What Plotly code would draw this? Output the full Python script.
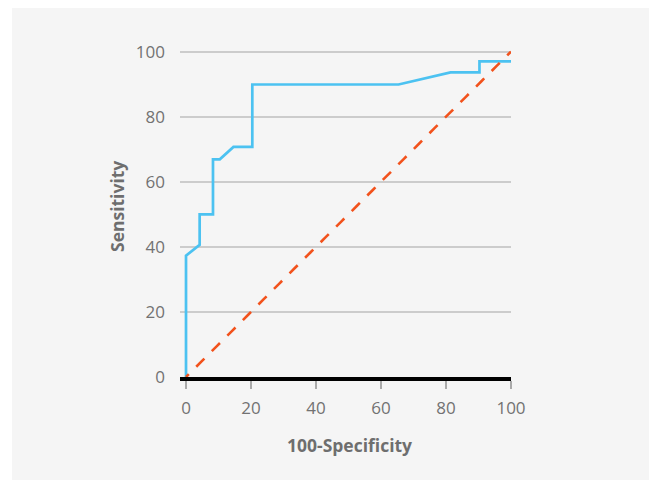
import plotly.graph_objects as go

# ROC curve (100-Specificity, Sensitivity)
fpr = [0, 0, 4.2, 4.2, 8.3, 8.3, 10.4, 14.6, 20.4, 20.4, 65.4, 81.4, 90.3, 90.3, 100]
tpr = [0, 37.3, 40.6, 50, 50, 66.9, 66.9, 70.7, 70.7, 89.9, 89.9, 93.6, 93.6, 97, 97]
ref_x = [0, 100]
ref_y = [0, 100]
x_ticks = [0, 20, 40, 60, 80, 100]
y_ticks = [0, 20, 40, 60, 80, 100]

OFF = 8  # page body margin
W, H = 657 - OFF, 481 - OFF
L, T = 180 - OFF, 50 - OFF
pw, ph = 331, 327
R = W - L - pw
B = H - T - ph

fig = go.Figure()
fig.add_trace(go.Scatter(x=fpr, y=tpr, mode="lines",
                         line=dict(color="#4cc2f1", width=2.7), showlegend=False))
fig.add_trace(go.Scatter(x=ref_x, y=ref_y, mode="lines",
                         line=dict(color="#f2521c", width=2.6, dash="4px,10.5px,7.5px,0px"),
                         showlegend=False))

def px2paper_x(px):
    return (px - OFF - L) / pw

def px2paper_y(py):
    return (T + ph - (py - OFF)) / ph

fig.add_shape(type="rect", xref="paper", yref="paper",
              x0=px2paper_x(12), x1=px2paper_x(655),
              y0=px2paper_y(480), y1=px2paper_y(8),
              fillcolor="#f5f5f5", line=dict(width=0), layer="below")

tickfont = dict(family="Open Sans", size=17, color="#727272")
fig.update_xaxes(range=[-1.85, 100], tickvals=x_ticks, ticktext=[str(v) for v in x_ticks],
                 showgrid=False, zeroline=False, showline=True, linecolor="black",
                 linewidth=4, ticks="outside", ticklen=8, tickcolor="#aaaaaa", tickwidth=1.5,
                 tickfont=tickfont, ticklabelstandoff=5, fixedrange=True)
fig.update_yaxes(range=[0, 100.5], tickvals=y_ticks, ticktext=[str(v) for v in y_ticks],
                 showgrid=True, gridcolor="#cccccc", gridwidth=1.5, zeroline=False,
                 showline=False, ticks="", tickfont=tickfont, ticklabelstandoff=14,
                 fixedrange=True)

titlefont = dict(family="Open Sans", size=17.5, color="#6e6e6e")
fig.add_annotation(text="<b>100-Specificity</b>", xref="paper", yref="paper",
                   x=px2paper_x(349), y=px2paper_y(445), showarrow=False,
                   font=titlefont, xanchor="center", yanchor="middle")
fig.add_annotation(text="<b>Sensitivity</b>", xref="paper", yref="paper",
                   x=px2paper_x(117), y=px2paper_y(207), showarrow=False,
                   font=titlefont, textangle=-90, xanchor="center", yanchor="middle")

fig.update_layout(width=W, height=H, margin=dict(l=L, r=R, t=T, b=B),
                  paper_bgcolor="white", plot_bgcolor="#f5f5f5")
fig.write_html("out.html")
